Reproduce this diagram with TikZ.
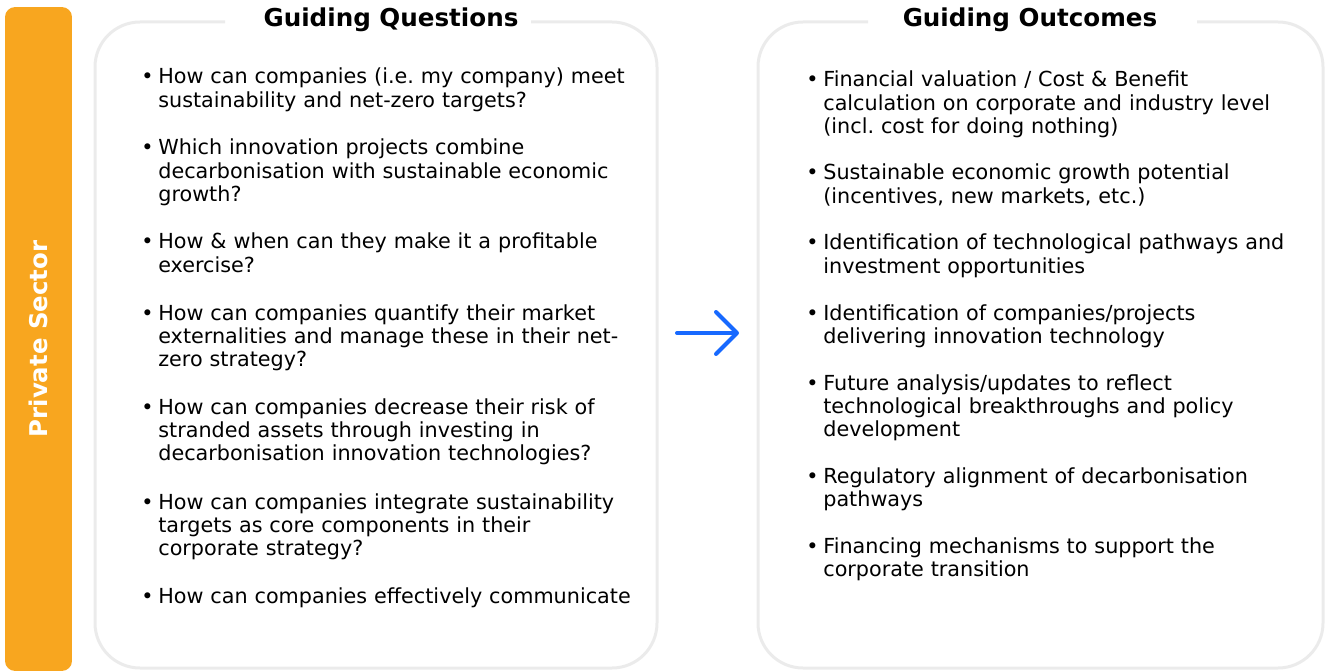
\documentclass[tikz,border=0pt]{standalone}
\usepackage{fontspec}
\setmainfont{DejaVu Sans}
\usetikzlibrary{arrows.meta}
\frenchspacing

\definecolor{sectororange}{HTML}{F8A61F}
\definecolor{framegray}{HTML}{EBEBEB}
\definecolor{arrowblue}{HTML}{1769FF}

\newcommand{\blt}{\makebox[0.34cm][l]{•}}
\newcommand{\ind}{\hspace*{0.34cm}}

\tikzset{
  frame/.style={draw=framegray, line width=0.06cm, rounded corners=0.9cm},
  title/.style={anchor=base, font=\bfseries\fontsize{14pt}{16pt}\selectfont},
  point/.style={anchor=base west, text width=11cm, align=left, inner sep=0pt,
    font=\fontsize{11.8pt}{13.3pt}\selectfont},
  flow/.style={draw=arrowblue, line width=0.08cm, line cap=round,
    -{Straight Barb[length=0.42cm, width=0.84cm, round]}}
}

\begin{document}
\begin{tikzpicture}[x=0.02cm, y=-0.02cm]
      \useasboundingbox (0,0) rectangle (1325,672);

      \node (sector) at (38.5,339) [fill=sectororange, rounded corners=0.2cm, rotate=90,
        minimum width=13.28cm, minimum height=1.34cm, text=white,
        font=\bfseries\fontsize{13.9pt}{15pt}\selectfont] {Private Sector};

      \draw[frame] (531,22) -- (657,22) -- (657,668) -- (95,668) -- (95,22) -- (225,22);
      \draw[frame] (1197,22) -- (1323,22) -- (1323,668) -- (758,668) -- (758,22) -- (868,22);

      \node (qtitle) at (391,27) [title] {Guiding Questions};
      \node (otitle) at (1030,27) [title] {Guiding Outcomes};

      \node (q1) at (141,84)  [point] {\blt How can companies (i.e. my company) meet\\
        \ind sustainability and net-zero targets?};
      \node (q2) at (141,155) [point] {\blt Which innovation projects combine\\
        \ind decarbonisation with sustainable economic\\
        \ind growth?};
      \node (q3) at (141,249) [point] {\blt How \& when can they make it a profitable\\
        \ind exercise?};
      \node (q4) at (141,320) [point] {\blt How can companies quantify their market\\
        \ind externalities and manage these in their net-\\
        \ind zero strategy?};
      \node (q5) at (141,414) [point] {\blt How can companies decrease their risk of\\
        \ind stranded assets through investing in\\
        \ind decarbonisation innovation technologies?};
      \node (q6) at (141,509) [point] {\blt How can companies integrate sustainability\\
        \ind targets as core components in their\\
        \ind corporate strategy?};
      \node (q7) at (141,603) [point] {\blt How can companies effectively communicate};

      \coordinate (from) at (677,333);
      \coordinate (to) at (739,333);
      \draw[flow] (from) -- (to);

      \node (o1) at (806,87)  [point] {\blt Financial valuation / Cost \& Benefit\\
        \ind calculation on corporate and industry level\\
        \ind (incl. cost for doing nothing)};
      \node (o2) at (806,180) [point] {\blt Sustainable economic growth potential\\
        \ind (incentives, new markets, etc.)};
      \node (o3) at (806,250) [point] {\blt Identification of technological pathways and\\
        \ind investment opportunities};
      \node (o4) at (806,320) [point] {\blt Identification of companies/projects\\
        \ind delivering innovation technology};
      \node (o5) at (806,390) [point] {\blt Future analysis/updates to reflect\\
        \ind technological breakthroughs and policy\\
        \ind development};
      \node (o6) at (806,483) [point] {\blt Regulatory alignment of decarbonisation\\
        \ind pathways};
      \node (o7) at (806,553) [point] {\blt Financing mechanisms to support the\\
        \ind corporate transition};
    \end{tikzpicture}
\end{document}
